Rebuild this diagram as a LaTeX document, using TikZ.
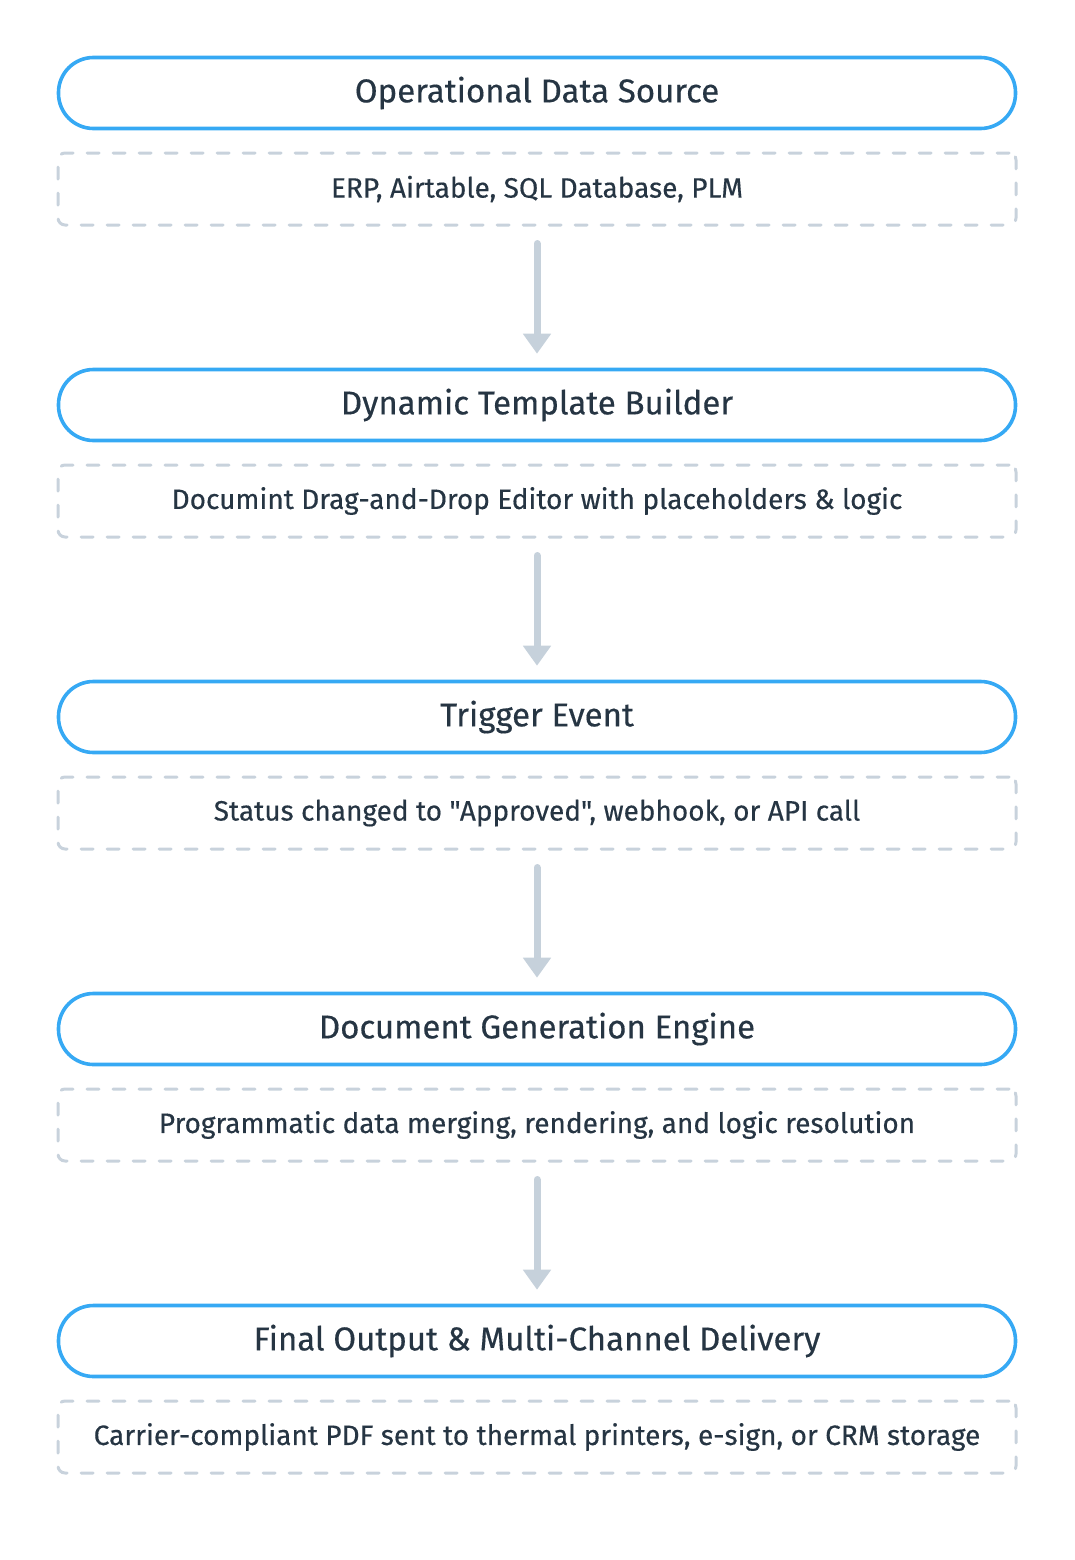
\documentclass[tikz,border=0pt]{standalone}
\usepackage{fontspec}
\setmainfont{Fira Sans}
\newfontfamily\stagefont{Fira Sans}[FakeBold=0.35]
\usetikzlibrary{arrows.meta}
\definecolor{stepblue}{HTML}{36A9F4}
\definecolor{dashgray}{HTML}{C8D2DC}
\definecolor{arrowgray}{HTML}{C6D1DB}
\definecolor{textdark}{HTML}{263543}
\tikzset{
  stagebox/.style={draw=stepblue, line width=3.6pt, rounded corners=35pt,
    minimum width=957pt, minimum height=71pt, text=textdark,
    font=\stagefont\fontsize{33}{38}\selectfont},
  notebox/.style={draw=dashgray, line width=3pt, dash pattern=on 12pt off 14pt,
    line cap=round, rounded corners=7pt, minimum width=958pt, minimum height=72pt,
    text=textdark, font=\stagefont\fontsize{28}{32}\selectfont},
  flow/.style={draw=arrowgray, line width=7pt, line cap=round,
    -{Triangle[width=27pt,length=20pt]}}
}
\begin{document}
\begin{tikzpicture}[x=1pt,y=-1pt]
   \useasboundingbox (0,0) rectangle (1075,1560);
% stages and their notes
   \node[stagebox] (s1) at (537,93)   {Operational Data Source};
   \node[notebox]  (n1) at (537,189)  {ERP, Airtable, SQL Database, PLM};
   \node[stagebox] (s2) at (537,405)  {Dynamic Template Builder};
   \node[notebox]  (n2) at (537,501)  {Documint Drag-and-Drop Editor with placeholders \& logic};
   \node[stagebox] (s3) at (537,717)  {Trigger Event};
   \node[notebox]  (n3) at (537,813)  {Status changed to "Approved", webhook, or API call};
   \node[stagebox] (s4) at (537,1029) {Document Generation Engine};
   \node[notebox]  (n4) at (537,1125) {Programmatic data merging, rendering, and logic resolution};
   \node[stagebox] (s5) at (537,1341) {Final Output \& Multi-Channel Delivery};
   \node[notebox]  (n5) at (537,1437) {Carrier-compliant PDF sent to thermal printers, e-sign, or CRM storage};
% connectors
   \foreach \a/\b in {n1/s2,n2/s3,n3/s4,n4/s5}
      \draw[flow] ([yshift=-17pt]\a.south) -- ([yshift=14pt]\b.north);
\end{tikzpicture}
\end{document}
